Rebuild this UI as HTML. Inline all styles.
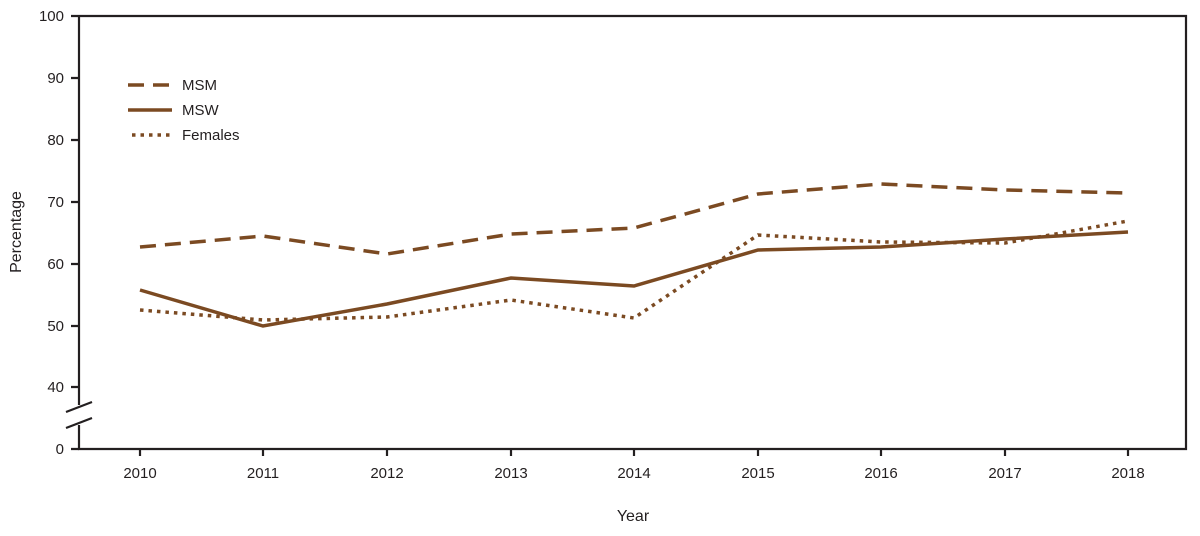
<!DOCTYPE html><html><head><style>body{margin:0;background:#fff}text{font-family:"Liberation Sans",sans-serif;fill:#231f20}</style></head><body>
<svg width="1200" height="531" viewBox="0 0 1200 531" xmlns="http://www.w3.org/2000/svg">
<g stroke="#231f20" stroke-width="2.2" fill="none">
<path d="M79,16H1186V449H79V425M79,405V16"/>
<path d="M71,16H79M71,78H79M71,140H79M71,202H79M71,264H79M71,326H79M71,387H79M71,449H79"/>
<path d="M66,412L92,402M66,428L92,418"/>
<path d="M140,449v7M263,449v7M387,449v7M511,449v7M634,449v7M758,449v7M881,449v7M1005,449v7M1128,449v7"/>
</g>
<g font-size="15" text-anchor="end">
<text x="64" y="21">100</text><text x="64" y="83">90</text><text x="64" y="145">80</text><text x="64" y="207">70</text><text x="64" y="269">60</text><text x="64" y="331">50</text><text x="64" y="392">40</text><text x="64" y="454">0</text></g>
<g font-size="15" text-anchor="middle">
<text x="140" y="478">2010</text><text x="263" y="478">2011</text><text x="387" y="478">2012</text><text x="511" y="478">2013</text><text x="634" y="478">2014</text><text x="758" y="478">2015</text><text x="881" y="478">2016</text><text x="1005" y="478">2017</text><text x="1128" y="478">2018</text>
<text x="633" y="521" font-size="16">Year</text>
<text transform="translate(21,232) rotate(-90)" font-size="16">Percentage</text></g>
<g stroke="#7b4a22" stroke-width="3.5" fill="none">
<polyline stroke-dasharray="16,9" points="140,247 263,236 387,254 511,234 634,228 758,194 881,184 1005,190 1128,193"/>
<polyline points="140,290 263,326 387,304 511,278 634,286 758,250 881,247 1005,239 1128,232"/>
<polyline stroke-dasharray="3.5,5" points="140,310 263,320 387,317 511,300 634,318 758,235 881,242 1005,243 1128,221"/>
<path stroke-dasharray="16,9" d="M128,85H175"/>
<path d="M128,110H172"/>
<path stroke-dasharray="3.5,5" d="M132,135H172"/>
</g>
<g font-size="15"><text x="182" y="90">MSM</text><text x="182" y="115">MSW</text><text x="182" y="140">Females</text></g>
</svg></body></html>
